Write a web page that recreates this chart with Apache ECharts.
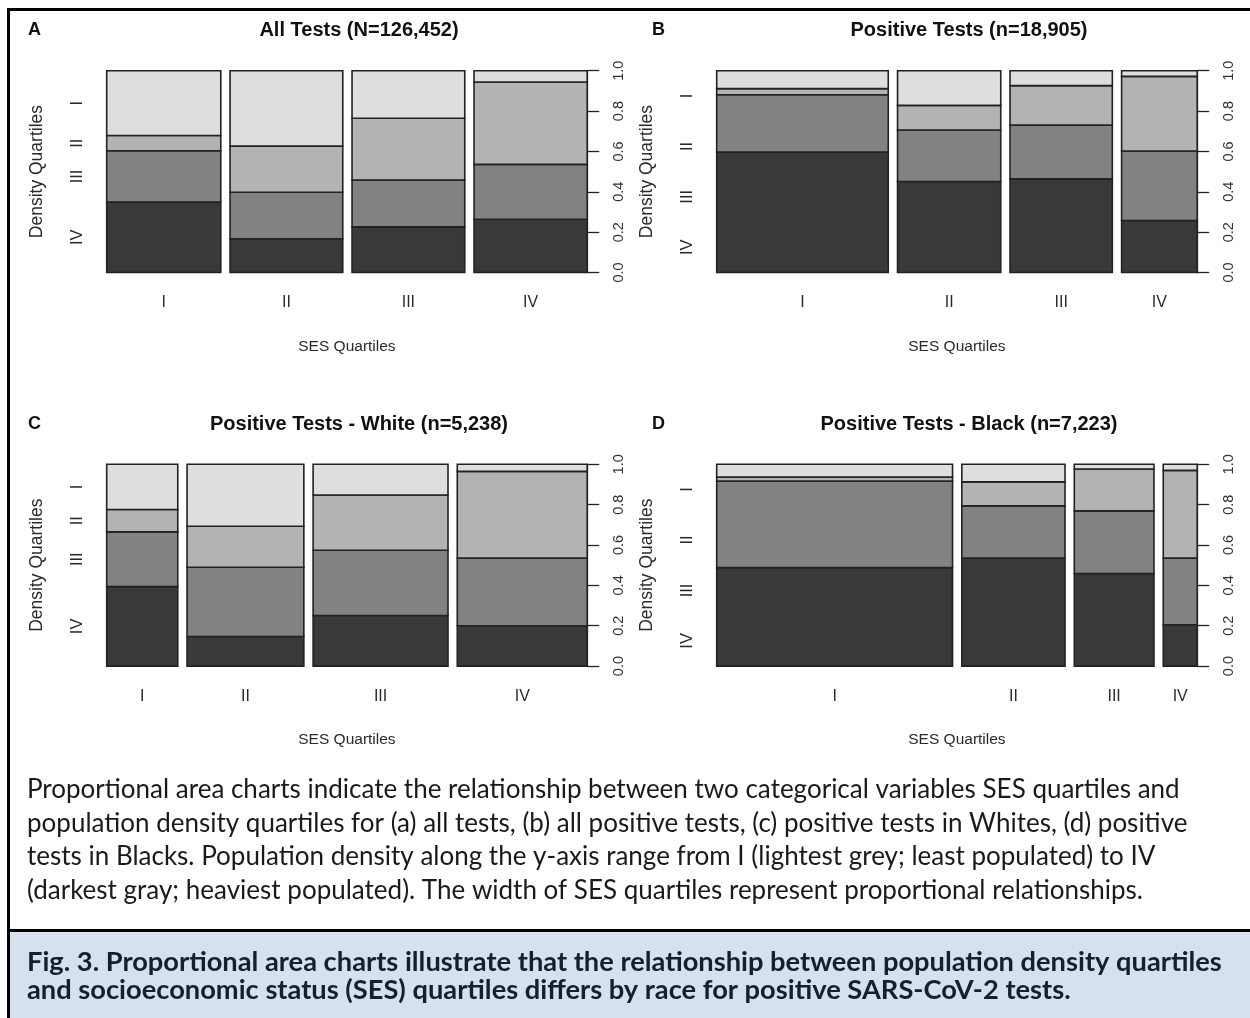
<!DOCTYPE html>
<html><head><meta charset="utf-8">
<script src="https://cdn.jsdelivr.net/npm/echarts@6/dist/echarts.min.js"></script>
<style>html,body{margin:0;padding:0;background:#fff}#c{width:1250px;height:1018px}</style>
</head><body><div id="c"></div>
<script>
// ---------------- data ----------------
const sesLabels = ['I', 'II', 'III', 'IV'];          // SES quartiles (columns)
const densityLabels = ['IV', 'III', 'II', 'I'];      // density quartiles, bottom -> top
const panelLetters = ['A', 'B', 'C', 'D'];
const panelTitles = [
  'All Tests (N=126,452)',
  'Positive Tests (n=18,905)',
  'Positive Tests - White (n=5,238)',
  'Positive Tests - Black (n=7,223)'
];
// column widths: share of tests in each SES quartile
const widthsA = [0.252, 0.249, 0.249, 0.250];
const widthsB = [0.379, 0.228, 0.226, 0.167];
const widthsC = [0.157, 0.258, 0.298, 0.287];
const widthsD = [0.521, 0.228, 0.176, 0.075];
// within each SES column: share of density quartile IV, III, II, I (bottom -> top)
const propsA = [[0.349, 0.254, 0.076, 0.321], [0.167, 0.231, 0.228, 0.374], [0.226, 0.232, 0.306, 0.236], [0.264, 0.272, 0.408, 0.056]];
const propsB = [[0.597, 0.284, 0.030, 0.089], [0.451, 0.255, 0.122, 0.172], [0.464, 0.267, 0.195, 0.074], [0.258, 0.344, 0.370, 0.028]];
const propsC = [[0.394, 0.271, 0.111, 0.224], [0.147, 0.343, 0.203, 0.307], [0.251, 0.323, 0.274, 0.152], [0.200, 0.335, 0.430, 0.035]];
const propsD = [[0.488, 0.429, 0.020, 0.063], [0.536, 0.258, 0.119, 0.087], [0.459, 0.310, 0.208, 0.023], [0.205, 0.330, 0.435, 0.030]];

const captionLines = [
  'Proportional area charts indicate the relationship between two categorical variables SES quartiles and',
  'population density quartiles for (a) all tests, (b) all positive tests, (c) positive tests in Whites, (d) positive',
  'tests in Blacks. Population density along the y-axis range from I (lightest grey; least populated) to IV',
  '(darkest gray; heaviest populated). The width of SES quartiles represent proportional relationships.'
];
const figLines = [
  'Fig. 3. Proportional area charts illustrate that the relationship between population density quartiles',
  'and socioeconomic status (SES) quartiles differs by race for positive SARS-CoV-2 tests.'
];

// ---------------- layout / style ----------------
const segColors = ['#393939', '#828282', '#b3b3b3', '#dedede']; // IV, III, II, I
const GAP = 0.0205;
const FONT = '"Liberation Sans", Arial, Helvetica, sans-serif';
const panels = [
  { widths: widthsA, props: propsA, labelMode: 'first', left: 106.7, top: 70.7, tx: 359, lx: 28, ty: 30 },
  { widths: widthsB, props: propsB, labelMode: 'even', left: 716.7, top: 70.7, tx: 969, lx: 652, ty: 30 },
  { widths: widthsC, props: propsC, labelMode: 'first', left: 106.7, top: 464.3, tx: 359, lx: 28, ty: 424 },
  { widths: widthsD, props: propsD, labelMode: 'even', left: 716.7, top: 464.3, tx: 969, lx: 652, ty: 424 }
];
const GW = 480.5, GH = 201.8;

const grid = [], xAxis = [], yAxis = [], series = [], graphic = [];

function nearestLabel(arr, labels, v) {
  let best = 0;
  arr.forEach((c, i) => { if (Math.abs(c - v) < Math.abs(arr[best] - v)) best = i; });
  return labels[best];
}

panels.forEach((p, i) => {
  grid.push({ left: p.left, top: p.top, width: GW, height: GH });
  const cols = [];
  let x = 0;
  p.widths.forEach(w => { cols.push([x, x + w]); x += w + GAP; });
  const centers = cols.map(c => (c[0] + c[1]) / 2);
  let mids;
  if (p.labelMode === 'first') {
    mids = []; let y = 0;
    p.props[0].forEach(v => { mids.push(y + v / 2); y += v; });
  } else {
    mids = [0.125, 0.375, 0.625, 0.875];
  }
  xAxis.push({
    gridIndex: i, type: 'value', min: 0, max: 1 + 3 * GAP,
    axisLine: { show: false, onZero: false }, axisTick: { show: false }, splitLine: { show: false },
    axisLabel: {
      customValues: centers, margin: 22, fontSize: 16, color: '#2a2a2a', fontFamily: FONT,
      formatter: v => nearestLabel(centers, sesLabels, v)
    },
    name: 'SES Quartiles', nameLocation: 'middle', nameGap: 66,
    nameTextStyle: { fontSize: 15.5, color: '#2a2a2a', fontFamily: FONT }
  });
  yAxis.push({
    gridIndex: i, type: 'value', position: 'right', min: 0, max: 1, interval: 0.2,
    axisLine: { show: true, onZero: false, lineStyle: { color: '#222', width: 1.3 } },
    axisTick: { show: true, length: 12, lineStyle: { color: '#222', width: 1.3 } },
    splitLine: { show: false },
    axisLabel: {
      rotate: 90, margin: 24, fontSize: 14.5, color: '#333', fontFamily: FONT,
      formatter: v => v.toFixed(1)
    }
  });
  yAxis.push({
    gridIndex: i, type: 'value', position: 'left', min: 0, max: 1,
    axisLine: { show: false, onZero: false }, axisTick: { show: false }, splitLine: { show: false },
    axisLabel: {
      customValues: mids, rotate: 90, margin: 21, fontSize: 16.5, color: '#2a2a2a', fontFamily: FONT,
      formatter: v => nearestLabel(mids, densityLabels, v)
    },
    name: 'Density Quartiles', nameLocation: 'middle', nameGap: 61, nameRotate: 90,
    nameTextStyle: { fontSize: 17.5, color: '#2a2a2a', fontFamily: FONT }
  });
  const data = [];
  cols.forEach((c, ci) => {
    let y = 0;
    p.props[ci].forEach((v, k) => {
      data.push({ value: [c[0], c[1], y, y + v], itemStyle: { color: segColors[k] } });
      y += v;
    });
  });
  series.push({
    type: 'custom', xAxisIndex: i, yAxisIndex: 2 * i, data,
    encode: { x: [0, 1], y: [2, 3] },
    renderItem: (params, api) => {
      const a = api.coord([api.value(0), api.value(3)]);
      const b = api.coord([api.value(1), api.value(2)]);
      return {
        type: 'rect',
        shape: { x: a[0], y: a[1], width: b[0] - a[0], height: b[1] - a[1] },
        style: { fill: api.visual('color'), stroke: '#222', lineWidth: 1.6 }
      };
    }
  });
  graphic.push({ type: 'text', x: p.lx, y: p.ty, style: { text: panelLetters[i], font: 'bold 18px ' + FONT, fill: '#111', align: 'left', verticalAlign: 'middle' } });
  graphic.push({ type: 'text', x: p.tx, y: p.ty, style: { text: panelTitles[i], font: 'bold 20px ' + FONT, fill: '#111', align: 'center', verticalAlign: 'middle' } });
});

// caption
const ctx = document.createElement('canvas').getContext('2d');
function fit(text, weight, fam, target) {
  ctx.font = weight + ' 100px ' + fam;
  return 100 * target / ctx.measureText(text).width;
}
const capFam = 'Lato, "Open Sans", sans-serif';
const capSize = fit(captionLines[0], 'normal', capFam, 1153);
const capY = [790, 823.5, 857, 890.5];
graphic.unshift(
  { type: 'rect', shape: { x: 10, y: 931, width: 1240, height: 87 }, style: { fill: '#d6e0ee' } },
  { type: 'line', shape: { x1: 7, y1: 9.5, x2: 1250, y2: 9.5 }, style: { stroke: '#000', lineWidth: 3 } },
  { type: 'line', shape: { x1: 8.5, y1: 8, x2: 8.5, y2: 1018 }, style: { stroke: '#000', lineWidth: 3 } },
  { type: 'line', shape: { x1: 7, y1: 930.5, x2: 1250, y2: 930.5 }, style: { stroke: '#000', lineWidth: 3 } }
);
captionLines.forEach((t, i) => {
  graphic.push({ type: 'text', x: 27, y: capY[i], style: { text: t, font: capSize.toFixed(2) + 'px ' + capFam, fill: '#1a1a1a', align: 'left', verticalAlign: 'middle' } });
});
const figSize = fit(figLines[0], 'bold', capFam, 1195);
const figY = [962, 990];
figLines.forEach((t, i) => {
  graphic.push({ type: 'text', x: 27, y: figY[i], style: { text: t, font: 'bold ' + figSize.toFixed(2) + 'px ' + capFam, fill: '#15202b', align: 'left', verticalAlign: 'middle' } });
});

const chart = echarts.init(document.getElementById('c'), null, { renderer: 'canvas' });
chart.setOption({ animation: false, backgroundColor: '#fff', grid, xAxis, yAxis, series, graphic });
</script></body></html>
